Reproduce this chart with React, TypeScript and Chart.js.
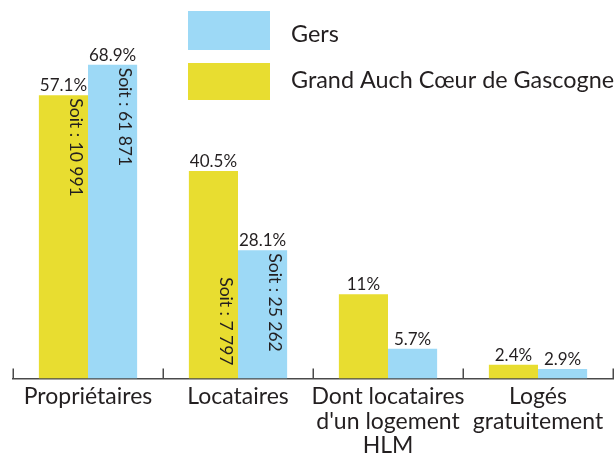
import { useEffect, useRef } from 'react';
import { Chart, registerables } from 'chart.js';

Chart.register(...registerables);

// ---- data ----
const categories: string[][] = [
  ['Propriétaires'],
  ['Locataires'],
  ['Dont locataires', "d'un logement", 'HLM'],
  ['Logés', 'gratuitement'],
];
const seriesNames = ['Grand Auch Cœur de Gascogne', 'Gers'];
// bar heights as drawn in the reference (same unit for both series)
const grandAuchValues = [62.1, 45.5, 18.5, 3.0];
const gersValues = [68.8, 28.1, 6.5, 2.1];
// printed labels
const grandAuchPct = ['57.1%', '40.5%', '11%', '2.4%'];
const gersPct = ['68.9%', '28.1%', '5.7%', '2.9%'];
const grandAuchCount = ['10 991', '7 797', '', ''];
const gersCount = ['61 871', '25 262', '', ''];
const yMax = 83;

// ---- styles ----
const FONT = 'Lato, "Open Sans", sans-serif';
const TEXT = '#231f20';
const YELLOW = '#e8dd30';
const BLUE = '#9dd9f6';
const innerAlign = [
  ['top', 'bottom', 'top', 'top'],
  ['top', 'top', 'top', 'top'],
];
const pctLabels = [grandAuchPct, gersPct];
const countLabels = [grandAuchCount, gersCount];

const labelsPlugin = {
  id: 'barLabels',
  afterDatasetsDraw(chart: any) {
    const ctx = chart.ctx;
    const yScale = chart.scales.y;
    const base = yScale.getPixelForValue(0);
    chart.data.datasets.forEach((_ds: any, di: number) => {
      const meta = chart.getDatasetMeta(di);
      meta.data.forEach((bar: any, i: number) => {
        const { x, y, width } = bar.getProps(['x', 'y', 'width'], true);
        ctx.save();
        ctx.fillStyle = TEXT;
        ctx.font = `17px ${FONT}`;
        ctx.textAlign = 'center';
        ctx.textBaseline = 'alphabetic';
        ctx.fillText(pctLabels[di][i], x, y - 4);
        const c = countLabels[di][i];
        if (c) {
          const txt = 'Soit : ' + c;
          const cx = x + width / 2 - 12;
          const align = innerAlign[di][i];
          if (align === 'top') {
            ctx.translate(cx, y + 3);
            ctx.rotate(Math.PI / 2);
            ctx.textAlign = 'left';
          } else {
            ctx.translate(cx, base - 13);
            ctx.rotate(Math.PI / 2);
            ctx.textAlign = 'right';
          }
          ctx.font = `17.5px ${FONT}`;
          ctx.textBaseline = 'middle';
          ctx.fillText(txt, 0, 0);
        }
        ctx.restore();
      });
    });
  },
};

const axisTicksPlugin = {
  id: 'innerTicks',
  afterDraw(chart: any) {
    const ctx = chart.ctx;
    const xs = chart.scales.x;
    const yb = chart.chartArea.bottom;
    ctx.save();
    ctx.strokeStyle = '#4a4a4a';
    ctx.lineWidth = 1.5;
    for (let i = 0; i <= categories.length; i++) {
      const px = Math.round(xs.getPixelForValue(i - 0.5)) + 0.25;
      ctx.beginPath();
      ctx.moveTo(px, yb);
      ctx.lineTo(px, yb - 10);
      ctx.stroke();
    }
    ctx.restore();
  },
};

const legendPlugin = {
  id: 'customLegend',
  afterDraw(chart: any) {
    const ctx = chart.ctx;
    const ds = chart.data.datasets;
    const rows = [
      { d: ds[1], top: 11, h: 39, baseline: 41.5 },
      { d: ds[0], top: 63, h: 37, baseline: 88 },
    ];
    ctx.save();
    rows.forEach((r) => {
      ctx.fillStyle = r.d.backgroundColor;
      ctx.fillRect(188, r.top, 82, r.h);
      ctx.fillStyle = TEXT;
      ctx.font = `23.4px ${FONT}`;
      ctx.textAlign = 'left';
      ctx.textBaseline = 'alphabetic';
      ctx.fillText(r.d.label, 291, r.baseline);
    });
    ctx.restore();
  },
};

export default function App() {
  const ref = useRef<HTMLCanvasElement | null>(null);
  useEffect(() => {
    if (!ref.current) return;
    const chart = new Chart(ref.current, {
      type: 'bar',
      data: {
        labels: categories as any,
        datasets: [
          {
            label: seriesNames[0],
            data: grandAuchValues,
            backgroundColor: YELLOW,
            borderWidth: 0,
            categoryPercentage: 0.655,
            barPercentage: 1,
          },
          {
            label: seriesNames[1],
            data: gersValues,
            backgroundColor: BLUE,
            borderWidth: 0,
            categoryPercentage: 0.655,
            barPercentage: 1,
          },
        ],
      },
      options: {
        responsive: false,
        animation: false,
        layout: { padding: { left: 13, right: 1, top: 0, bottom: 0 } },
        plugins: {
          legend: { display: false },
          tooltip: { enabled: false },
          title: { display: false },
        },
        scales: {
          x: {
            offset: true,
            grid: { display: false, drawTicks: false },
            border: { display: true, color: '#4a4a4a', width: 1.5 },
            ticks: {
              autoSkip: false,
              maxRotation: 0,
              padding: 6,
              color: TEXT,
              font: { family: FONT, size: 23, lineHeight: 1.065 },
            },
            afterFit: (scale: any) => {
              scale.height = 75.5;
            },
          },
          y: {
            display: false,
            min: 0,
            max: yMax,
          },
        },
      },
      plugins: [labelsPlugin, axisTicksPlugin, legendPlugin],
    });
    return () => chart.destroy();
  }, []);
  return (
    <div style={{ position: 'absolute', left: 0, top: 0, width: 614, height: 454 }}>
      <canvas ref={ref} width={614} height={454} />
    </div>
  );
}
